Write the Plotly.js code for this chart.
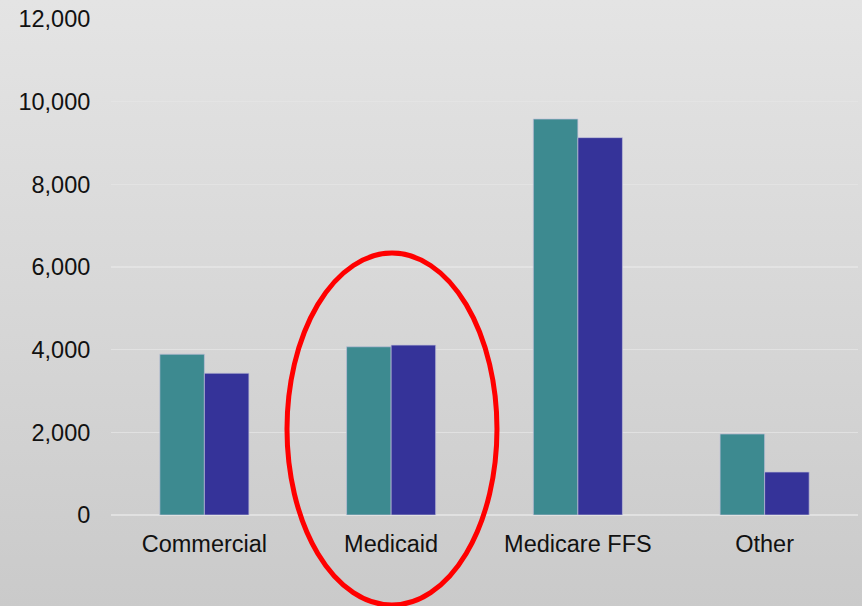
<!DOCTYPE html>
<html>
<head>
<meta charset="utf-8">
<script src="https://cdn.plot.ly/plotly-3.0.1.min.js"></script>
<style>
  html, body { margin: 0; padding: 0; }
  body { width: 862px; height: 606px; background: linear-gradient(to bottom, #e4e4e4 0%, #d6d6d6 55%, #cacaca 100%); }
  #chart { width: 862px; height: 606px; }
</style>
</head>
<body>
<div id="chart"></div>
<script>
const categories = ["Commercial", "Medicaid", "Medicare FFS", "Other"];
const seriesA = [3890, 4070, 9580, 1960];
const seriesB = [3430, 4110, 9130, 1040];
const yTickVals = [0, 2000, 4000, 6000, 8000, 10000, 12000];
const yTickText = ["0", "2,000", "4,000", "6,000", "8,000", "10,000", "12,000"];

const barLine = { color: "rgba(190,190,215,0.7)", width: 1 };

const traces = [
  { type: "bar", name: "A", x: categories, y: seriesA, marker: { color: "#3d8a90", line: barLine }, hoverinfo: "skip" },
  { type: "bar", name: "B", x: categories, y: seriesB, marker: { color: "#353399", line: barLine }, hoverinfo: "skip" }
];

const layout = {
  width: 862, height: 606,
  margin: { l: 111, r: 4, t: 19, b: 91 },
  paper_bgcolor: "rgba(0,0,0,0)",
  plot_bgcolor: "rgba(0,0,0,0)",
  showlegend: false,
  barmode: "group",
  bargap: 0.523,
  bargroupgap: 0,
  font: { family: "Liberation Sans, Arial, sans-serif", size: 23.5, color: "#111111" },
  xaxis: {
    type: "category",
    showgrid: false, showline: false, zeroline: false,
    ticks: "outside", ticklen: 8, tickcolor: "rgba(0,0,0,0)",
    tickfont: { size: 23.5, color: "#111111" }
  },
  yaxis: {
    range: [0, 12000],
    tickvals: yTickVals, ticktext: yTickText,
    showgrid: true, gridcolor: "rgba(228,228,228,0.85)", gridwidth: 1.5,
    zeroline: true, zerolinecolor: "rgba(228,228,228,0.85)", zerolinewidth: 1.5,
    showline: false,
    ticks: "outside", ticklen: 15, tickcolor: "rgba(0,0,0,0)",
    tickfont: { size: 23.5, color: "#111111" }
  },
  shapes: [
    { type: "circle", xref: "paper", yref: "paper",
      x0: 0.2356, x1: 0.5167, y0: -0.1815, y1: 0.528,
      line: { color: "#ff0000", width: 5 }, fillcolor: "rgba(0,0,0,0)", layer: "above" }
  ]
};

Plotly.newPlot("chart", traces, layout, { displayModeBar: false, staticPlot: true });
</script>
</body>
</html>
